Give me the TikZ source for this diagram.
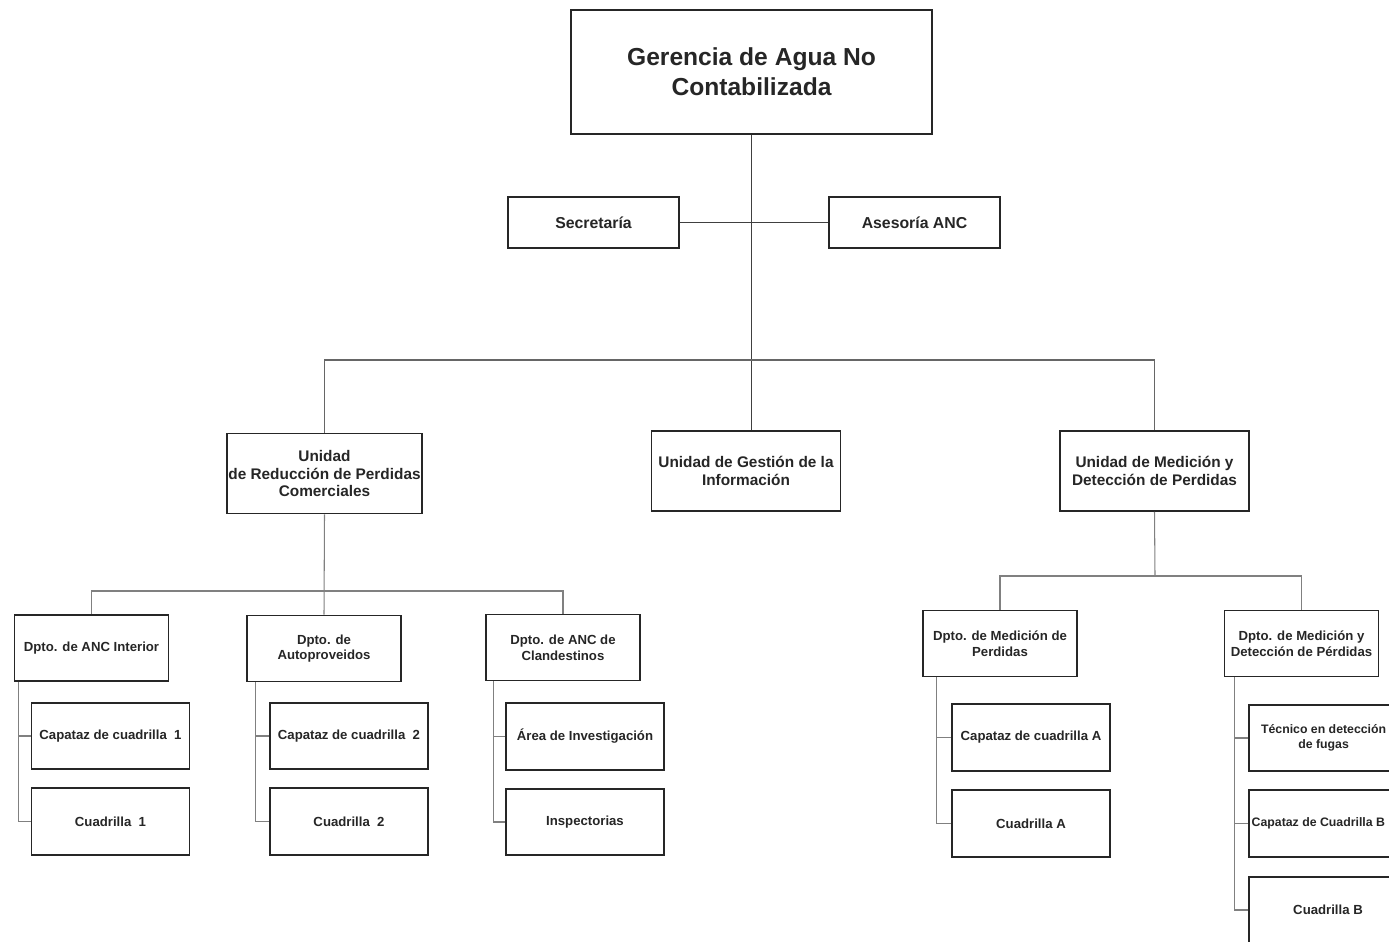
\documentclass[tikz,border=0pt]{standalone}
\usepackage{fontspec}
\setmainfont{Liberation Sans}
\usetikzlibrary{calc}
\usetikzlibrary{positioning}

\tikzset{
    box/.style={draw=black!85, line width=1.1pt, fill=white, inner sep=1pt, align=center, text=black!85},
    gerbox/.style={box, minimum width=7.22cm, minimum height=2.48cm, font=\fontsize{14}{17}\selectfont\bfseries},
    sidebox/.style={box, minimum width=3.42cm, minimum height=1.02cm, font=\fontsize{9}{10.5}\selectfont\bfseries},
    unitbox/.style={box, minimum width=3.78cm, minimum height=1.6cm, font=\fontsize{8.75}{9.8}\selectfont\bfseries},
    deptbox/.style={box, minimum width=3.08cm, minimum height=1.32cm, font=\fontsize{7.5}{9}\selectfont\bfseries},
    leafbox/.style={box, minimum width=3.16cm, minimum height=1.33cm, font=\fontsize{7.5}{9}\selectfont\bfseries},
    edgebox/.style={leafbox, font=\fontsize{7}{8.8}\selectfont\bfseries},
    link/.style={draw=black!50, line width=0.6pt},
}
% pushes a line of text to the left inside its box
\newcommand{\pushl}[1]{\rule{#1}{0pt}}

\begin{document}
\begin{tikzpicture}[x=0.02cm, y=-0.02cm]
        \useasboundingbox (0,0) rectangle (1389,941);

        % Top level
        \node[gerbox] (ger) at (751.5,72) {Gerencia de Agua No\\Contabilizada};
        \node[sidebox] (sec) at (593.5,222.5) {Secretaría};
        \node[sidebox] (ase) at (914.5,222.5) {Asesoría ANC};

        % Units
        \node[unitbox] (ured) at (324.5,473.5) {Unidad\\de Reducción de Perdidas\\Comerciales};
        \node[unitbox] (ugi) at (746,471) {Unidad de Gestión de la\\Información};
        \node[unitbox] (umd) at (1154.5,471) {Unidad de Medición y\\Detección de Perdidas};

        % Departments
        \node[deptbox] (dint) at (91.5,648) {Dpto. de ANC Interior};
        \node[deptbox] (daut) at (324,648.5) {Dpto. de\\Autoproveidos};
        \node[deptbox] (dcla) at (563,647.5) {Dpto. de ANC de\\Clandestinos};
        \node[deptbox] (dmp) at (1000,643.5) {Dpto. de Medición de\\Perdidas};
        \node[deptbox] (dmd) at (1301.5,643.5) {Dpto. de Medición y\\Detección de Pérdidas};

        % Crews
        \node[leafbox] (cap1) at (110.5,736) {Capataz de cuadrilla~~1};
        \node[leafbox] (cua1) at (110.5,821.5) {Cuadrilla~~1};
        \node[leafbox] (cap2) at (349,736) {Capataz de cuadrilla~~2};
        \node[leafbox] (cua2) at (349,821.5) {Cuadrilla~~2};
        \node[leafbox] (area) at (585,736.5) {Área de Investigación};
        \node[leafbox] (insp) at (585,822) {Inspectorias};
        \node[leafbox] (capA) at (1031,737.5) {Capataz de cuadrilla A};
        \node[leafbox] (cuaA) at (1031,823.5) {Cuadrilla A};
        \node[edgebox] (tec) at (1328,738) {Técnico en detección\pushl{5pt}\\de fugas\pushl{5pt}};
        \node[edgebox] (capB) at (1328,823.5) {Capataz de Cuadrilla B\pushl{11pt}};
        \node[leafbox] (cuaB) at (1328,910) {Cuadrilla B};

        % Bus points
        \coordinate (bus1) at (751,360);
        \coordinate (bus2) at (324,591);
        \coordinate (bus3) at (1155,576);

        % Connectors
        \draw[link, draw=black!75] (ger.south) -- (ger.south |- ugi.north); % trunk
        \draw[link, draw=black!75] (sec.east) -- (ase.west);
        \draw[link, draw=black!60] (ured.north) |- (bus1) -| (umd.north);
        \draw[link] (ured.south) -- (daut.north);
        \draw[link] (dint.north) |- (bus2) -| (dcla.north);
        \draw[link] (umd.south) -- (bus3);
        \draw[link] (dmp.north) |- (bus3) -| (dmd.north);

        % Rails to the crews
        \foreach \p/\c/\d in {dint/cap1/5, dint/cua1/5, daut/cap2/9, daut/cua2/9,
                              dcla/area/8, dcla/insp/8, dmp/capA/14, dmp/cuaA/14,
                              dmd/tec/11, dmd/capB/11, dmd/cuaB/11} {
            \draw[link] ($(\p.south west)+(\d,0)$) |- (\c.west);
        }
    \end{tikzpicture}
\end{document}
